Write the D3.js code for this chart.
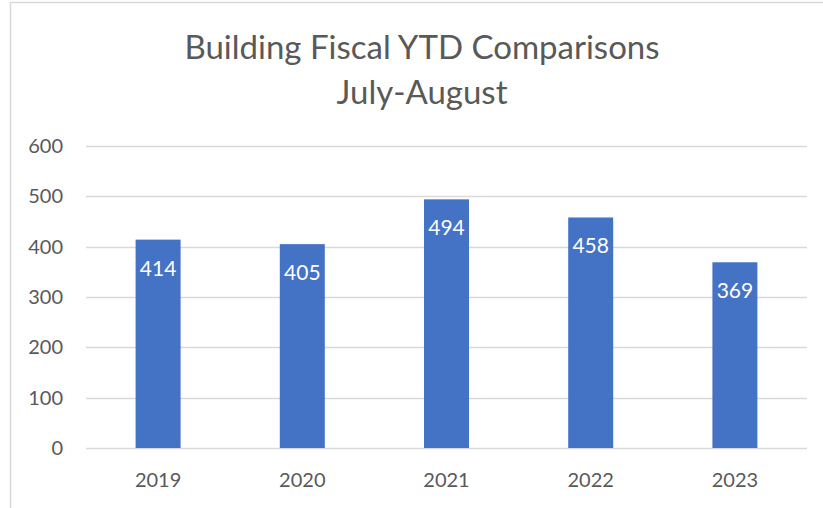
<!DOCTYPE html>
<html>
<head>
<meta charset="utf-8">
<script src="https://cdn.jsdelivr.net/npm/d3@7"></script>
<style>
  body { margin: 0; background: #fff; }
  text { font-family: Lato, "Open Sans", sans-serif; }
</style>
</head>
<body>
<div id="chart"></div>
<script>
// data
const years = ["2019", "2020", "2021", "2022", "2023"];
const values = [414, 405, 494, 458, 369];
const yTicks = [0, 100, 200, 300, 400, 500, 600];
const titleLines = ["Building Fiscal YTD Comparisons", "July-August"];

const width = 823;
const height = 508;
const margin = {top: 146, right: 16, bottom: 60, left: 86};

const svg = d3.select("#chart")
  .append("svg")
  .attr("width", width)
  .attr("height", height);

// chart border (only left/top visible in the crop)
svg.append("rect")
  .attr("x", 10.5)
  .attr("y", 2.5)
  .attr("width", width + 20)
  .attr("height", height + 20)
  .attr("fill", "none")
  .attr("stroke", "#d9d9d9")
  .attr("stroke-width", 1.5);

const x = d3.scaleBand()
  .domain(years)
  .range([margin.left, width - margin.right])
  .paddingInner(0.688)
  .paddingOuter(0.344);

const y = d3.scaleLinear()
  .domain([0, 600])
  .range([height - margin.bottom, margin.top]);

// gridlines
svg.append("g")
  .selectAll("line")
  .data(yTicks)
  .join("line")
  .attr("x1", margin.left)
  .attr("x2", width - margin.right)
  .attr("y1", d => Math.round(y(d)) + 0.5)
  .attr("y2", d => Math.round(y(d)) + 0.5)
  .attr("stroke", "#d9d9d9")
  .attr("stroke-width", 1.5);

// y labels
svg.append("g")
  .selectAll("text")
  .data(yTicks)
  .join("text")
  .attr("x", 63)
  .attr("y", d => y(d))
  .attr("dy", "0.35em")
  .attr("text-anchor", "end")
  .attr("font-size", 20)
  .attr("fill", "#595959")
  .text(d => d);

// x labels
svg.append("g")
  .selectAll("text")
  .data(years)
  .join("text")
  .attr("x", d => x(d) + x.bandwidth() / 2)
  .attr("y", height - margin.bottom + 39)
  .attr("text-anchor", "middle")
  .attr("font-size", 20)
  .attr("fill", "#595959")
  .text(d => d);

// bars
svg.append("g")
  .selectAll("rect")
  .data(values)
  .join("rect")
  .attr("x", (d, i) => x(years[i]))
  .attr("y", d => y(d))
  .attr("width", x.bandwidth())
  .attr("height", d => y(0) - y(d))
  .attr("fill", "#4472c4");

// value labels
svg.append("g")
  .selectAll("text")
  .data(values)
  .join("text")
  .attr("x", (d, i) => x(years[i]) + x.bandwidth() / 2)
  .attr("y", d => y(d) + 36)
  .attr("text-anchor", "middle")
  .attr("font-size", 21)
  .attr("fill", "#ffffff")
  .text(d => d);

// title
svg.append("g")
  .selectAll("text")
  .data(titleLines)
  .join("text")
  .attr("x", 422)
  .attr("y", (d, i) => 59 + i * 45)
  .attr("text-anchor", "middle")
  .attr("font-size", 33)
  .attr("fill", "#595959")
  .text(d => d);
</script>
</body>
</html>
